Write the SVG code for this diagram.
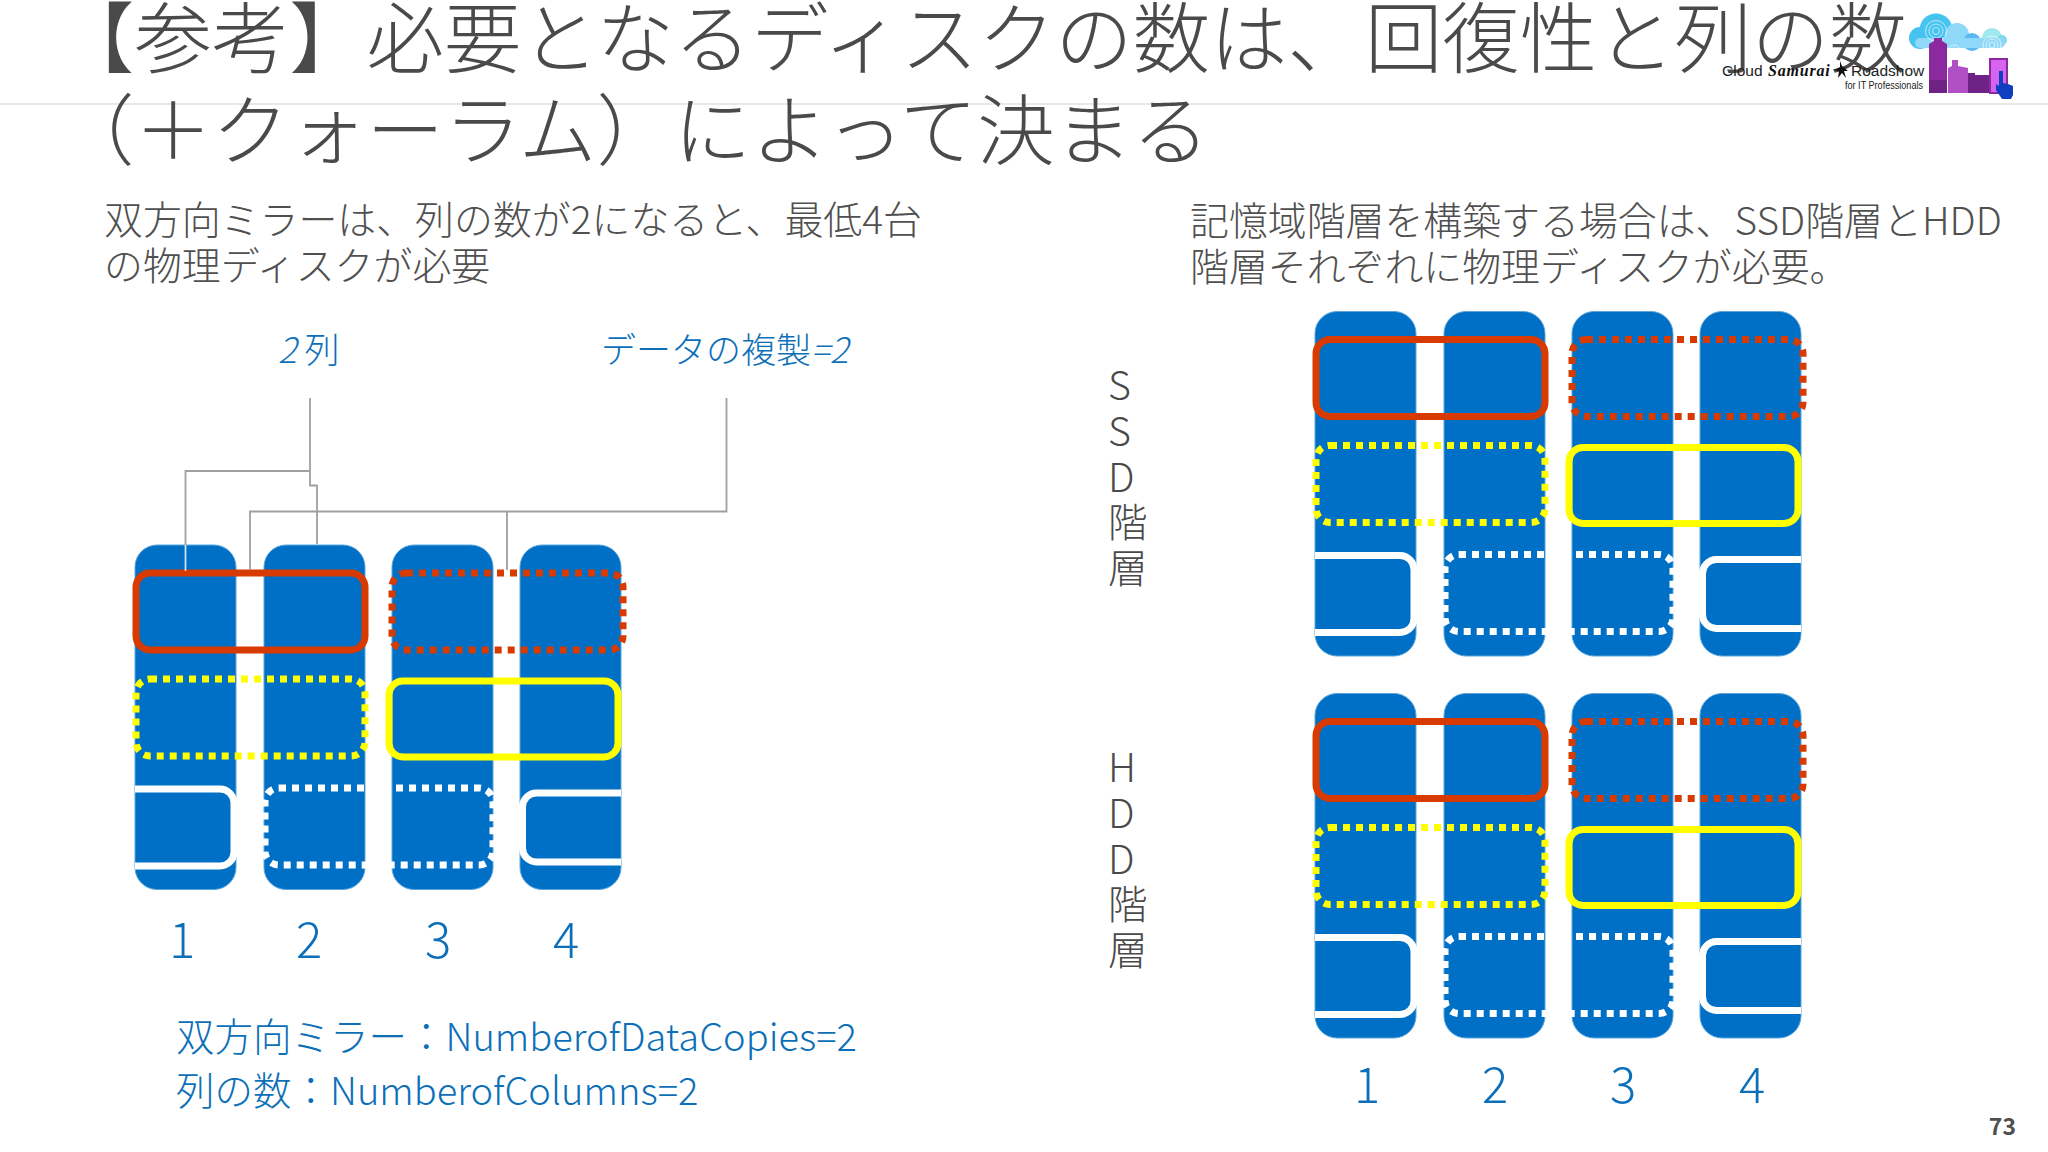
<svg xmlns="http://www.w3.org/2000/svg" width="2048" height="1152" viewBox="0 0 2048 1152">
<style>
text{font-family:"Noto Sans CJK JP","Noto Sans",sans-serif}
.title{font-size:77.4px;font-weight:300;fill:#4A4A4A}
.sub{font-size:38.9px;font-weight:300;fill:#505050}
.blue{font-size:38.5px;font-weight:300;fill:#0C6FB8}
.ltn{font-size:38.1px}
.ital{font-size:35px;font-weight:300;fill:#0C6FB8}
.ital tspan{font-style:italic}
.num{font-size:49px;font-weight:300;fill:#0C6FB8;text-anchor:middle}
.vert{font-size:39.5px;font-weight:300;fill:#4A4A4A}
.logo{font-family:"Liberation Sans",sans-serif;fill:#222222}
.col{fill:#0070C6;stroke:#5AA5DC;stroke-width:1}
.st{fill:none;stroke-width:7}
.red{stroke:#D83B01}.yel{stroke:#FFFF00}.wht{stroke:#FFFFFF}
.dot{stroke-dasharray:7 6}
.conn{fill:none;stroke:#A0A0A0;stroke-width:1.8}
</style>
<rect width="2048" height="1152" fill="#FFFFFF"/>
<line id="header-rule" x1="0" y1="104" x2="2048" y2="104" stroke="#E8E8E8" stroke-width="2"/>
<g id="title">
<text class="title" x="57" y="67">【参考】必要となるディスクの数は、回復性と列の数</text>
<text class="title" x="57" y="159">（＋クォーラム）によって決まる</text>
</g>
<g id="logo">
<circle cx="1920" cy="38" r="11" fill="#45C4F0"/>
<circle cx="1936" cy="30" r="16.500" fill="#45C4F0"/>
<circle cx="1957" cy="35" r="12" fill="#8FD8F8"/>
<circle cx="1972" cy="42" r="9" fill="#5CB8F0"/>
<circle cx="1992" cy="38" r="10" fill="#A0E8F0"/>
<circle cx="2002" cy="40" r="5" fill="#7FD8EC"/>
<rect x="1915" y="38" width="90" height="10" rx="5" fill="#8FD8F8"/>
<g fill="none" stroke="#FFFFFF" stroke-width="0.8" opacity="0.8">
<circle cx="1936" cy="31" r="3.500"/><circle cx="1936" cy="31" r="7"/><circle cx="1936" cy="31" r="10.500"/>
<circle cx="1954" cy="51" r="3"/><circle cx="1954" cy="51" r="6"/>
<circle cx="1992" cy="45" r="3"/><circle cx="1992" cy="45" r="6"/><circle cx="1992" cy="45" r="9"/>
</g>
<path d="M1929 93V44L1934 41V38H1942V41L1947 44V93Z" fill="#8A2A9E"/>
<rect x="1929" y="80" width="18" height="13" fill="#6E2286"/>
<path d="M1948 93V68L1952 66V60H1958V66L1968 68V93Z" fill="#B14FC5"/>
<path d="M1968 93V73H1975V75H1990V93Z" fill="#6E2286"/>
<rect x="1990" y="59" width="17" height="34" fill="#D664EE" stroke="#8A2A9E" stroke-width="2"/>
<path d="M1999 71H2003V83L2008 84L2013 86V95L2011 99H2002L1996 90V84L1999 86Z" fill="#0F3FC0"/>
<text class="logo" x="1722" y="76" font-size="15.500">Cloud</text>
<text x="1768" y="76" font-size="16" font-style="italic" font-weight="700" fill="#111111" letter-spacing="0.8" style="font-family:'Liberation Serif',serif">Samurai</text>
<path d="M1840 61L1842 66L1848 71L1844 71L1846 78L1842 73L1838 78L1839 71L1834 70L1840 67Z" fill="#111111"/>
<text class="logo" x="1851" y="76" font-size="15.500">Roadshow</text>
<text class="logo" x="1845" y="89" font-size="11" textLength="78" lengthAdjust="spacingAndGlyphs">for IT Professionals</text>
</g>
<g id="heading-left">
<text class="sub" x="104" y="234">双方向ミラーは、列の数が2になると、最低4台</text>
<text class="sub" x="104" y="280">の物理ディスクが必要</text>
</g>
<g id="heading-right">
<text class="sub" x="1190" y="235">記憶域階層を構築する場合は、SSD階層とHDD</text>
<text class="sub" x="1190" y="281">階層それぞれに物理ディスクが必要。</text>
</g>
<g id="label-columns"><text class="ital" x="278" y="363"><tspan>2</tspan> 列</text></g>
<g id="label-copies"><text class="ital" x="601" y="363">データの複製<tspan>=2</tspan></text></g>

<g id="array-left">
<rect class="col" x="135" y="545" width="101" height="344.5" rx="22"/>
<rect class="col" x="264" y="545" width="101" height="344.5" rx="22"/>
<rect class="col" x="392" y="545" width="101" height="344.5" rx="22"/>
<rect class="col" x="520" y="545" width="101" height="344.5" rx="22"/>
<rect class="st red" x="136" y="573" width="229" height="77" rx="14"/>
<rect class="st red dot" x="392" y="573" width="231" height="77" rx="14"/>
<rect class="st yel dot" x="136" y="679" width="229" height="77" rx="14"/>
<rect class="st yel" x="389" y="681" width="229" height="76" rx="14"/>
<path class="st wht" d="M135 789H220a14 14 0 0 1 14 14V852a14 14 0 0 1-14 14H135"/>
<rect class="st wht dot" x="265" y="788" width="228" height="77" rx="14"/>
<path class="st wht" d="M621 793H536.500a14 14 0 0 0-14 14V848a14 14 0 0 0 14 14H621"/>
</g>

<g id="connectors">
<path class="conn" d="M310 398V471H185.500V545M310 471V485.500H317V544"/>
<path class="conn" d="M726.500 398V511.500H250V570M507 511.500V570"/>
<path d="M185.500 545V571" fill="none" stroke="#CFE3F2" stroke-width="1.8"/>
</g>

<g id="label-nums-left">
<text class="num" x="182" y="958">1</text>
<text class="num" x="309" y="958">2</text>
<text class="num" x="438" y="958">3</text>
<text class="num" x="566" y="958">4</text>
</g>
<g id="note">
<text class="blue" x="176" y="1051">双方向ミラー：<tspan class="ltn">NumberofDataCopies=2</tspan></text>
<text class="blue" x="176" y="1105">列の数：<tspan class="ltn">NumberofColumns=2</tspan></text>
</g>

<g id="label-ssd">
<text class="vert" x="1108" y="400">S</text>
<text class="vert" x="1108" y="446">S</text>
<text class="vert" x="1108" y="492">D</text>
<text class="vert" x="1108" y="537">階</text>
<text class="vert" x="1108" y="583">層</text>
</g>
<g id="array-ssd" transform="translate(1180,-233.500)">
<rect class="col" x="135" y="545" width="101" height="344.5" rx="22"/>
<rect class="col" x="264" y="545" width="101" height="344.5" rx="22"/>
<rect class="col" x="392" y="545" width="101" height="344.5" rx="22"/>
<rect class="col" x="520" y="545" width="101" height="344.5" rx="22"/>
<rect class="st red" x="136" y="573" width="229" height="77" rx="14"/>
<rect class="st red dot" x="392" y="573" width="231" height="77" rx="14"/>
<rect class="st yel dot" x="136" y="679" width="229" height="77" rx="14"/>
<rect class="st yel" x="389" y="681" width="229" height="76" rx="14"/>
<path class="st wht" d="M135 789H220a14 14 0 0 1 14 14V852a14 14 0 0 1-14 14H135"/>
<rect class="st wht dot" x="265" y="788" width="228" height="77" rx="14"/>
<path class="st wht" d="M621 793H536.500a14 14 0 0 0-14 14V848a14 14 0 0 0 14 14H621"/>
</g>

<g id="label-hdd">
<text class="vert" x="1108" y="782">H</text>
<text class="vert" x="1108" y="828">D</text>
<text class="vert" x="1108" y="874">D</text>
<text class="vert" x="1108" y="919">階</text>
<text class="vert" x="1108" y="965">層</text>
</g>
<g id="array-hdd" transform="translate(1180,148.500)">
<rect class="col" x="135" y="545" width="101" height="344.5" rx="22"/>
<rect class="col" x="264" y="545" width="101" height="344.5" rx="22"/>
<rect class="col" x="392" y="545" width="101" height="344.5" rx="22"/>
<rect class="col" x="520" y="545" width="101" height="344.5" rx="22"/>
<rect class="st red" x="136" y="573" width="229" height="77" rx="14"/>
<rect class="st red dot" x="392" y="573" width="231" height="77" rx="14"/>
<rect class="st yel dot" x="136" y="679" width="229" height="77" rx="14"/>
<rect class="st yel" x="389" y="681" width="229" height="76" rx="14"/>
<path class="st wht" d="M135 789H220a14 14 0 0 1 14 14V852a14 14 0 0 1-14 14H135"/>
<rect class="st wht dot" x="265" y="788" width="228" height="77" rx="14"/>
<path class="st wht" d="M621 793H536.500a14 14 0 0 0-14 14V848a14 14 0 0 0 14 14H621"/>
</g>
<g id="label-nums-right">
<text class="num" x="1367" y="1103">1</text>
<text class="num" x="1495" y="1103">2</text>
<text class="num" x="1623" y="1103">3</text>
<text class="num" x="1752" y="1103">4</text>
</g>
<g id="page-number"><text x="2016" y="1135" text-anchor="end" font-size="23" font-weight="700" fill="#505050">73</text></g>
</svg>
